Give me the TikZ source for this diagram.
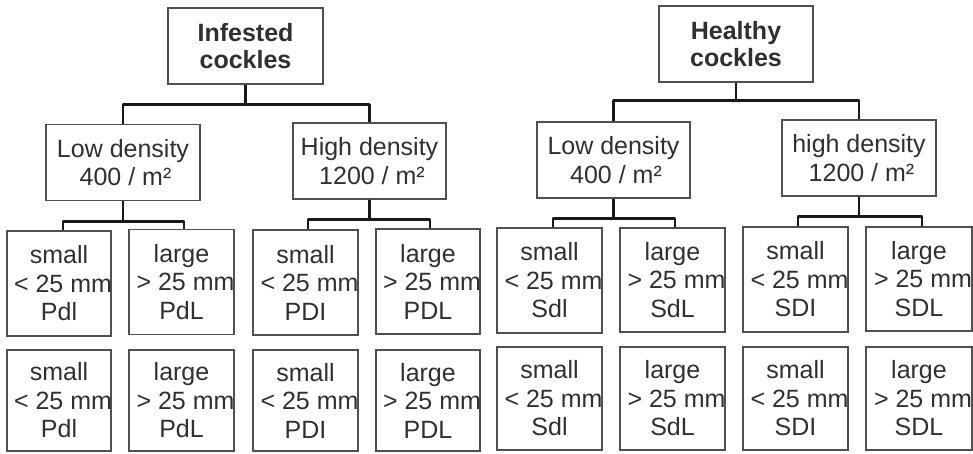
\documentclass[tikz,border=0pt]{standalone}
\usepackage{fontspec}
\setmainfont{Liberation Sans}
\definecolor{boxc}{HTML}{505050}
\definecolor{txt}{HTML}{303030}
\newcommand{\midline}[1]{\makebox[0pt]{\hspace{8pt}#1}}
\begin{document}
\begin{tikzpicture}[x=1pt,y=-1pt,
  box/.style={draw=boxc, line width=1.1pt, align=center, inner sep=0pt, text=txt,
    font=\fontsize{25}{28.5}\selectfont},
  head/.style={box, font=\fontsize{25}{27.5}\selectfont\bfseries, minimum width=155pt, minimum height=76pt},
  mid/.style={box, minimum width=154pt, minimum height=76pt},
  leaf/.style={box, minimum width=105pt, minimum height=105pt},
  leafb/.style={box, minimum width=105pt, minimum height=102pt},
  conn/.style={draw=black!90, line width=2.9pt, line join=round},
]
\useasboundingbox[fill=white] (0,0) rectangle (973,453);

% top level
\node[head] (inf) at (245.5,46) {Infested\\cockles};
\node[head, minimum width=154pt] (hea) at (736,44) {Healthy\\cockles};

% second level
\node[mid] (lowA) at (123,162.5) {Low density\\\hspace{5pt}400 / m²};
\node[mid, minimum width=153pt] (highA) at (369.5,161) {High density\\\hspace{5pt}1200 / m²};
\node[mid, minimum width=153pt] (lowB) at (613.5,160) {Low density\\\hspace{5pt}400 / m²};
\node[mid] (highB) at (859,158) {high density\\\hspace{5pt}1200 / m²};

% leaves row 1
\node[leaf, minimum width=104pt] (a1) at (59,283.5) {small\\\midline{< 25 mm}\\Pdl};
\node[leaf] (a2) at (181.5,282) {large\\\midline{> 25 mm}\\PdL};
\node[leaf] (a3) at (305.5,282.5) {small\\\midline{< 25 mm}\\PDI};
\node[leaf, minimum width=104pt] (a4) at (428,281.5) {large\\\midline{> 25 mm}\\PDL};
\node[leaf] (b1) at (549.5,280.5) {small\\\midline{< 25 mm}\\Sdl};
\node[leaf, minimum height=104pt] (b2) at (672.5,280) {large\\\midline{> 25 mm}\\SdL};
\node[leaf] (b3) at (795.5,279.5) {small\\\midline{< 25 mm}\\SDI};
\node[leaf, minimum width=106pt, minimum height=104pt] (b4) at (919,279) {large\\\midline{> 25 mm}\\SDL};

% leaves row 2
\node[leafb, minimum width=104pt, minimum height=101pt] (c1) at (59,400.5) {small\\\midline{< 25 mm}\\Pdl};
\node[leafb, minimum height=101pt] (c2) at (181.5,400.5) {large\\\midline{> 25 mm}\\PdL};
\node[leafb, minimum height=101pt] (c3) at (305.5,400.5) {small\\\midline{< 25 mm}\\PDI};
\node[leafb, minimum width=104pt, minimum height=101pt] (c4) at (428,400.5) {large\\\midline{> 25 mm}\\PDL};
\node[leafb, minimum height=103pt] (d1) at (549.5,398.5) {small\\\midline{< 25 mm}\\Sdl};
\node[leafb, minimum height=103pt] (d2) at (672.5,398.5) {large\\\midline{> 25 mm}\\SdL};
\node[leafb, minimum height=103pt] (d3) at (795.5,398.5) {small\\\midline{< 25 mm}\\SDI};
\node[leafb, minimum width=106pt, minimum height=103pt] (d4) at (919,398.5) {large\\\midline{> 25 mm}\\SDL};

% connectors, top level
\draw[conn] (inf.south) -- ++(0,20) coordinate (jI);
\draw[conn] (lowA.north) |- (jI) -| (highA.north);
\draw[conn] (hea.south) -- ++(0,18) coordinate (jH);
\draw[conn] (lowB.north) |- (jH) -| (highB.north);

% connectors, to leaves
\draw[conn] (lowA.south) -- ++(0,20) coordinate (jA);
\draw[conn] ([xshift=4pt]a1.north) |- (jA) -| ([xshift=2.5pt]a2.north);
\draw[conn] (highA.south) -- ++(0,20) coordinate (jB);
\draw[conn] ([xshift=2.5pt]a3.north) |- (jB) -| ([xshift=2pt]a4.north);
\draw[conn] (lowB.south) -- ++(0,20) coordinate (jC);
\draw[conn] ([xshift=3.5pt]b1.north) |- (jC) -| ([xshift=2.5pt]b2.north);
\draw[conn] (highB.south) -- ++(0,20) coordinate (jD);
\draw[conn] ([xshift=2.5pt]b3.north) |- (jD) -| ([xshift=3pt]b4.north);
\end{tikzpicture}
\end{document}
